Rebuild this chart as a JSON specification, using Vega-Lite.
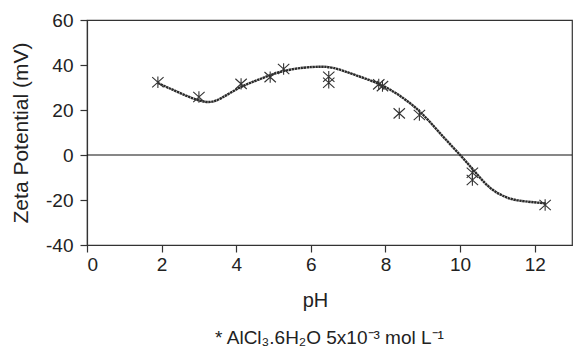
{
  "$schema": "https://vega.github.io/schema/vega-lite/v6.json",
  "width": 485,
  "height": 225,
  "autosize": {"type": "none"},
  "padding": {"left": 87, "top": 20, "right": 2, "bottom": 103},
  "background": "white",
  "config": {
    "font": "Liberation Sans",
    "view": {"stroke": "#333333", "strokeWidth": 1.2},
    "axis": {"grid": false, "domainColor": "#333333", "tickColor": "#333333", "labelColor": "#222222", "titleColor": "#222222", "labelFontSize": 19, "titleFontSize": 20, "titleFontWeight": "normal", "tickSize": 7, "domainWidth": 1.2, "tickWidth": 1.2}
  },
  "title": {"text": "* AlCl₃.6H₂O 5x10⁻³ mol L⁻¹", "orient": "bottom", "fontSize": 19, "fontWeight": "normal", "color": "#222222", "offset": 19, "anchor": "middle"},
  "datasets": {
    "points": [
      {"pH": 1.9, "zeta": 32.3},
      {"pH": 3.0, "zeta": 25.8},
      {"pH": 4.13, "zeta": 31.6},
      {"pH": 4.91, "zeta": 34.6},
      {"pH": 5.27, "zeta": 38.2},
      {"pH": 6.48, "zeta": 34.8},
      {"pH": 6.48, "zeta": 32.1},
      {"pH": 7.82, "zeta": 31.4},
      {"pH": 7.92, "zeta": 30.6},
      {"pH": 8.37, "zeta": 18.5},
      {"pH": 8.91, "zeta": 17.8},
      {"pH": 10.33, "zeta": -7.9},
      {"pH": 10.33, "zeta": -11.1},
      {"pH": 12.28, "zeta": -22.2}
    ],
    "curve": [
      {"pH": 1.9, "zeta": 32},
      {"pH": 2.5, "zeta": 27.5},
      {"pH": 3.15, "zeta": 23.7},
      {"pH": 3.6, "zeta": 25.3},
      {"pH": 4.1, "zeta": 30},
      {"pH": 4.6, "zeta": 33.5},
      {"pH": 5.2, "zeta": 37},
      {"pH": 5.8, "zeta": 38.8},
      {"pH": 6.2, "zeta": 39.2},
      {"pH": 6.6, "zeta": 38.7},
      {"pH": 7.2, "zeta": 35.5},
      {"pH": 7.9, "zeta": 31},
      {"pH": 8.5, "zeta": 25},
      {"pH": 9.0, "zeta": 18},
      {"pH": 9.5, "zeta": 9},
      {"pH": 10.0, "zeta": 0},
      {"pH": 10.4, "zeta": -7.5},
      {"pH": 10.8, "zeta": -14.5},
      {"pH": 11.2, "zeta": -18.5},
      {"pH": 11.6, "zeta": -20.3},
      {"pH": 12.3, "zeta": -21.5}
    ],
    "zero": [{"z": 0}]
  },
  "layer": [
    {
      "data": {"name": "zero"},
      "mark": {"type": "rule", "color": "#111111", "strokeWidth": 1.2},
      "encoding": {"y": {"field": "z", "type": "quantitative", "scale": {"domain": [-40, 60]}}}
    },
    {
      "data": {"name": "curve"},
      "mark": {"type": "line", "interpolate": "natural", "color": "#2a2a2a", "strokeWidth": 2.4, "strokeDash": [2.5, 0.5]},
      "encoding": {
        "x": {"field": "pH", "type": "quantitative", "scale": {"domain": [0, 13], "nice": false}, "axis": {"values": [0, 2, 4, 6, 8, 10, 12], "title": "pH", "labelPadding": 3, "titlePadding": 16, "titleX": 228, "labelExpr": "'' + datum.value"}},
        "y": {"field": "zeta", "type": "quantitative", "scale": {"domain": [-40, 60], "nice": false}, "axis": {"values": [-40, -20, 0, 20, 40, 60], "title": "Zeta Potential (mV)", "titleFontSize": 21, "labelPadding": 7, "titlePadding": 14, "labelExpr": "'' + datum.value"}}
      }
    },
    {
      "data": {"name": "points"},
      "mark": {"type": "point", "shape": "M-1,-0.9L1,0.9M-1,0.9L1,-0.9M0,-1L0,1", "filled": false, "stroke": "#333333", "strokeWidth": 1.1, "size": 130, "opacity": 1},
      "encoding": {
        "x": {"field": "pH", "type": "quantitative"},
        "y": {"field": "zeta", "type": "quantitative"}
      }
    }
  ]
}
